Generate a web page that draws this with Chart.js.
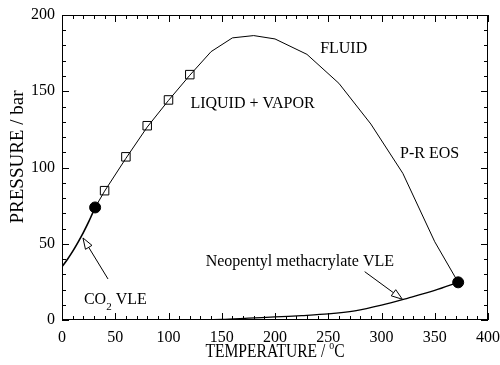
<!DOCTYPE html>
<html>
<head>
<meta charset="utf-8">
<script src="https://cdn.jsdelivr.net/npm/chart.js@4.4.1/dist/chart.umd.min.js"></script>
<style>
html, body { margin: 0; padding: 0; background: #fff; }
#wrap { width: 500px; height: 365px; }
</style>
</head>
<body>
<div id="wrap"><canvas id="phaseChart"></canvas></div>
<script>
// CO2 vapour pressure curve up to its critical point
const co2Temp = [0, 5, 10, 15, 20, 25, 31.1];
const co2Pres = [34.9, 39.7, 45.0, 50.9, 57.3, 64.3, 73.8];

// Peng-Robinson mixture critical curve
const eosTemp = [31.1, 40, 60, 80, 100, 120, 140, 160, 180, 200, 230, 260, 290, 320, 350, 372];
const eosPres = [73.8, 84.5, 106, 126.5, 144, 160.5, 176, 185, 186.5, 184.3, 174.2, 155.2, 128.5, 96.2, 51.3, 24.7];

// neopentyl methacrylate vapour pressure curve
const nmaTemp = [120, 150, 175, 200, 225, 250, 275, 300, 325, 350, 372];
const nmaPres = [0.1, 0.4, 1.2, 2.0, 2.9, 4.0, 6.0, 9.7, 14.4, 19.4, 24.7];

// measured mixture critical points
const exptTemp = [40, 60, 80, 100, 120];
const exptPres = [84.8, 107, 127.4, 144.3, 160.9];

// pure component critical points
const critTemp = [31.1, 372];
const critPres = [73.8, 24.7];

const xTicks = [0, 50, 100, 150, 200, 250, 300, 350, 400];
const yTicks = [0, 50, 100, 150, 200];

const serif = '"Liberation Serif", "Times New Roman", serif';

function pts(xs, ys) {
    return xs.map((v, i) => ({ x: v, y: ys[i] }));
}

function arrow(ctx, x0, y0, x1, y1) {
    const ang = Math.atan2(y1 - y0, x1 - x0);
    const len = 11, half = 3.8;
    const bx = x1 - len * Math.cos(ang);
    const by = y1 - len * Math.sin(ang);
    ctx.save();
    ctx.beginPath();
    ctx.moveTo(x0, y0);
    ctx.lineTo(bx, by);
    ctx.stroke();
    ctx.beginPath();
    ctx.moveTo(x1, y1);
    ctx.lineTo(bx + half * Math.sin(ang), by - half * Math.cos(ang));
    ctx.lineTo(bx - half * Math.sin(ang), by + half * Math.cos(ang));
    ctx.closePath();
    ctx.fillStyle = '#fff';
    ctx.fill();
    ctx.stroke();
    ctx.restore();
}

const decorations = {
    id: 'decorations',
    afterDraw(chart) {
        const { ctx, chartArea: a, scales: { x, y } } = chart;
        const px = v => x.getPixelForValue(v);
        const py = v => y.getPixelForValue(v);

        ctx.save();
        ctx.strokeStyle = '#000';
        ctx.lineWidth = 1;
        ctx.strokeRect(Math.round(a.left) + 0.5, Math.round(a.top) + 0.5,
            Math.round(a.width) - 1, Math.round(a.height) - 1);

        // inward tick marks on all four sides
        ctx.beginPath();
        for (let t = 0; t <= 400; t += 10) {
            const xp = Math.round(px(t)) + 0.5;
            const len = t % 50 === 0 ? 7 : 4;
            ctx.moveTo(xp, a.bottom); ctx.lineTo(xp, a.bottom - len);
            ctx.moveTo(xp, a.top); ctx.lineTo(xp, a.top + len);
        }
        for (let p = 0; p <= 200; p += 10) {
            const yp = Math.round(py(p)) + 0.5;
            const len = p % 50 === 0 ? 7 : 4;
            ctx.moveTo(a.left, yp); ctx.lineTo(a.left + len, yp);
            ctx.moveTo(a.right, yp); ctx.lineTo(a.right - len, yp);
        }
        ctx.stroke();

        // region and curve labels
        ctx.fillStyle = '#000';
        ctx.textBaseline = 'middle';
        ctx.textAlign = 'center';
        ctx.font = '16px ' + serif;
        ctx.fillText('FLUID', px(264.5), py(177.7));
        ctx.fillText('LIQUID + VAPOR', px(178.9), py(141.6));
        ctx.fillText('P-R EOS', px(345.2), py(108.9));
        ctx.fillText('Neopentyl methacrylate VLE', px(223.3), py(38));

        // CO2 VLE with subscript
        ctx.textAlign = 'left';
        let cx = px(20.6);
        const cy = py(13.1);
        ctx.fillText('CO', cx, cy);
        cx += ctx.measureText('CO').width;
        ctx.font = '11px ' + serif;
        ctx.fillText('2', cx, cy + 7);
        cx += ctx.measureText('2').width;
        ctx.font = '16px ' + serif;
        ctx.fillText(' VLE', cx, cy);

        arrow(ctx, px(43.2), py(26.9), px(19.7), py(53.8));
        arrow(ctx, px(284.2), py(31.7), px(319.6), py(13.6));

        // x axis title with superscript degree sign
        ctx.save();
        ctx.translate((a.left + a.right) / 2, 352);
        ctx.scale(0.82, 1);
        ctx.font = '19px ' + serif;
        const partA = 'TEMPERATURE / ';
        const wA = ctx.measureText(partA).width;
        const wC = ctx.measureText('C').width;
        ctx.font = '12px ' + serif;
        const wO = ctx.measureText('o').width;
        let sx = -(wA + wO + wC) / 2;
        ctx.font = '19px ' + serif;
        ctx.fillText(partA, sx, 0);
        sx += wA;
        ctx.font = '12px ' + serif;
        ctx.fillText('o', sx, -6);
        sx += wO;
        ctx.font = '19px ' + serif;
        ctx.fillText('C', sx, 0);
        ctx.restore();

        // y axis title
        ctx.save();
        ctx.translate(18, 157);
        ctx.rotate(-Math.PI / 2);
        ctx.textAlign = 'center';
        ctx.font = '19px ' + serif;
        ctx.fillText('PRESSURE / bar', 0, 0);
        ctx.restore();

        ctx.restore();
    }
};

const tickFont = { family: serif, size: 16 };

new Chart(document.getElementById('phaseChart'), {
    type: 'scatter',
    data: {
        datasets: [
            {
                data: pts(eosTemp, eosPres),
                showLine: true,
                borderColor: '#000',
                borderWidth: 1,
                pointRadius: 0,
                tension: 0
            },
            {
                data: pts(co2Temp, co2Pres),
                showLine: true,
                borderColor: '#000',
                borderWidth: 1.6,
                pointRadius: 0,
                tension: 0.3
            },
            {
                data: pts(nmaTemp, nmaPres),
                showLine: true,
                borderColor: '#000',
                borderWidth: 1.3,
                pointRadius: 0,
                tension: 0.3
            },
            {
                data: pts(exptTemp, exptPres),
                showLine: false,
                pointStyle: 'rect',
                pointRadius: 6,
                borderColor: '#000',
                borderWidth: 1,
                backgroundColor: '#fff'
            },
            {
                data: pts(critTemp, critPres),
                showLine: false,
                pointStyle: 'circle',
                pointRadius: 5.5,
                borderColor: '#000',
                backgroundColor: '#000'
            }
        ]
    },
    options: {
        responsive: true,
        maintainAspectRatio: false,
        animation: false,
        events: [],
        layout: { padding: { top: 15, right: 12, left: 0, bottom: 0 } },
        plugins: {
            legend: { display: false },
            tooltip: { enabled: false }
        },
        scales: {
            x: {
                type: 'linear',
                min: 0,
                max: 400,
                grid: { display: false, drawTicks: false },
                border: { display: false },
                ticks: { color: '#000', font: tickFont, padding: 8, maxRotation: 0 },
                afterBuildTicks: s => { s.ticks = xTicks.map(v => ({ value: v })); },
                afterFit: s => { s.height = 45; s.paddingLeft = 0; s.paddingRight = 0; }
            },
            y: {
                min: 0,
                max: 200,
                grid: { display: false, drawTicks: false },
                border: { display: false },
                ticks: { color: '#000', font: tickFont, padding: 7 },
                afterBuildTicks: s => { s.ticks = yTicks.map(v => ({ value: v })); },
                afterFit: s => { s.width = 62; s.paddingTop = 0; s.paddingBottom = 0; }
            }
        }
    },
    plugins: [decorations]
});
</script>
</body>
</html>
